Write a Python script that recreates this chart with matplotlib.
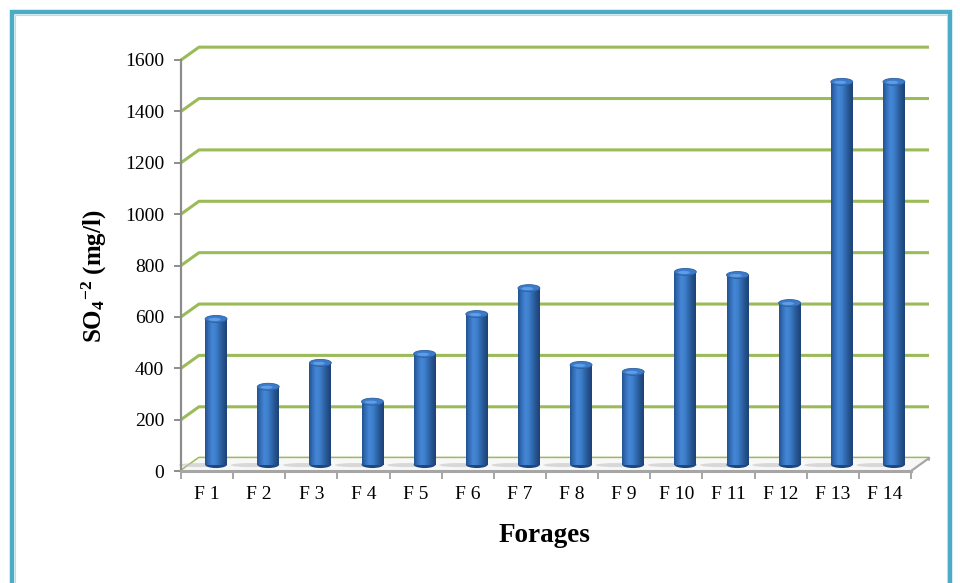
import numpy as np
import matplotlib
matplotlib.use("Agg")
import matplotlib.pyplot as plt
from matplotlib.colors import LinearSegmentedColormap
from matplotlib.patches import Ellipse, Polygon, Rectangle

# sulfate per borehole (mg/l)
forages = ["F 1", "F 2", "F 3", "F 4", "F 5", "F 6", "F 7",
           "F 8", "F 9", "F 10", "F 11", "F 12", "F 13", "F 14"]
so4 = [567, 303, 396, 245, 431, 586, 687, 388, 361, 750, 738, 629, 1490, 1490]
yticks = [0, 200, 400, 600, 800, 1000, 1200, 1400, 1600]

plt.rcParams["font.family"] = ["Liberation Serif", "DejaVu Serif"]
plt.rcParams["mathtext.fontset"] = "custom"
plt.rcParams["mathtext.rm"] = "Liberation Serif"
plt.rcParams["mathtext.bf"] = "Liberation Serif:bold"

fig = plt.figure(figsize=(9.6, 5.83), dpi=100)
ax = fig.add_axes([181 / 960, 112 / 583, 730 / 960, 411 / 583])

n = len(forages)
# depth of the fake 3d box, in data units
DX = 0.345
DY = 50
bar_w = 0.42
cap_h = 27

green = "#9BBB59"
gray = "#A6A6A6"

# back wall gridlines, with the slanted bit on the left wall
for v in yticks:
    ax.plot([0, DX, n + DX], [v, v + DY, v + DY], color=green, lw=2.2,
            solid_capstyle="butt", clip_on=False, zorder=1)

# floor
floor = Polygon([(0, 0), (n, 0), (n + DX, DY), (DX, DY)], closed=True,
                facecolor="#F7F7F7", edgecolor="none", zorder=1.5, clip_on=False)
ax.add_patch(floor)
ax.plot([n, n + DX], [0, DY], color=gray, lw=1.6, clip_on=False, zorder=1.6)
ax.plot([n + DX, n + DX], [DY, DY - 8], color=gray, lw=1.2, clip_on=False, zorder=1.6)

cyl = LinearSegmentedColormap.from_list(
    "cyl", ["#24528F", "#3470BA", "#4687D6", "#3F80CD", "#3068AD", "#25528E", "#1D4275"])
grad = np.linspace(0, 1, 64).reshape(1, -1)

for i, v in enumerate(so4):
    x = i + 0.5 + DX / 2
    base = DY / 2
    # shadow on the floor
    ax.add_patch(Ellipse((x - 0.32, base - 2), 0.8, 16, facecolor="#C4C4C4",
                         edgecolor="none", alpha=0.6, zorder=1.7, clip_on=False))
    ax.add_patch(Ellipse((x, base), bar_w, cap_h, facecolor="#1F477F",
                         edgecolor="none", zorder=2.9, clip_on=False))
    ax.imshow(grad, extent=[x - bar_w / 2, x + bar_w / 2, base, base + v],
              aspect="auto", cmap=cyl, interpolation="bicubic", zorder=3,
              clip_on=False)
    ax.add_patch(Ellipse((x, base + v), bar_w, cap_h, facecolor="#3B7BCB",
                         edgecolor="#2C5F9F", lw=0.6, zorder=4, clip_on=False))
    ax.add_patch(Ellipse((x - 0.03, base + v - 2), bar_w * 0.55, cap_h * 0.45,
                         facecolor="#6AA6EC", edgecolor="none", alpha=0.8,
                         zorder=4.1, clip_on=False))

ax.set_xlim(0, n)
ax.set_ylim(0, 1600)
ax.set_aspect("auto")

for s in ["top", "right"]:
    ax.spines[s].set_visible(False)
ax.spines["left"].set_color("#8C8C8C")
ax.spines["left"].set_linewidth(1.6)
ax.spines["bottom"].set_color(gray)
ax.spines["bottom"].set_linewidth(2.2)
ax.set_facecolor("none")

ax.set_yticks(yticks)
ax.set_yticklabels([str(t) for t in yticks])
ax.tick_params(axis="y", direction="out", length=5, width=1.4, color="#8C8C8C",
               labelsize=14, pad=7)

ax.set_xticks(np.arange(n) + 0.5)
ax.set_xticklabels(forages)
ax.set_xticks(np.arange(n + 1), minor=True)
ax.tick_params(axis="x", which="major", length=0, labelsize=14, pad=11)
ax.tick_params(axis="x", which="minor", direction="out", length=6, width=1.4,
               color=gray)

ax.set_ylabel(r"$\mathbf{SO_4{}^{-2}}$ (mg/l)", fontsize=18, fontweight="bold")
ax.yaxis.set_label_coords(-0.119, 0.475)
ax.yaxis.label.set_verticalalignment("center")
ax.set_xlabel("Forages", fontsize=19.5, fontweight="bold")
ax.xaxis.set_label_coords(0.4986, -0.156)
ax.xaxis.label.set_verticalalignment("center")

# frame around the whole chart
fig.patches.append(Rectangle((12 / 960, -0.05), 938 / 960, 1.05 - 12 / 583,
                             transform=fig.transFigure, fill=False,
                             edgecolor="#4BACC6", lw=3.2))
fig.patches.append(Rectangle((15 / 960, -0.05), 932 / 960, 1.05 - 15.5 / 583,
                             transform=fig.transFigure, fill=False,
                             edgecolor="#B7DEE8", lw=0.8))

fig.savefig("out.png", dpi=100)
